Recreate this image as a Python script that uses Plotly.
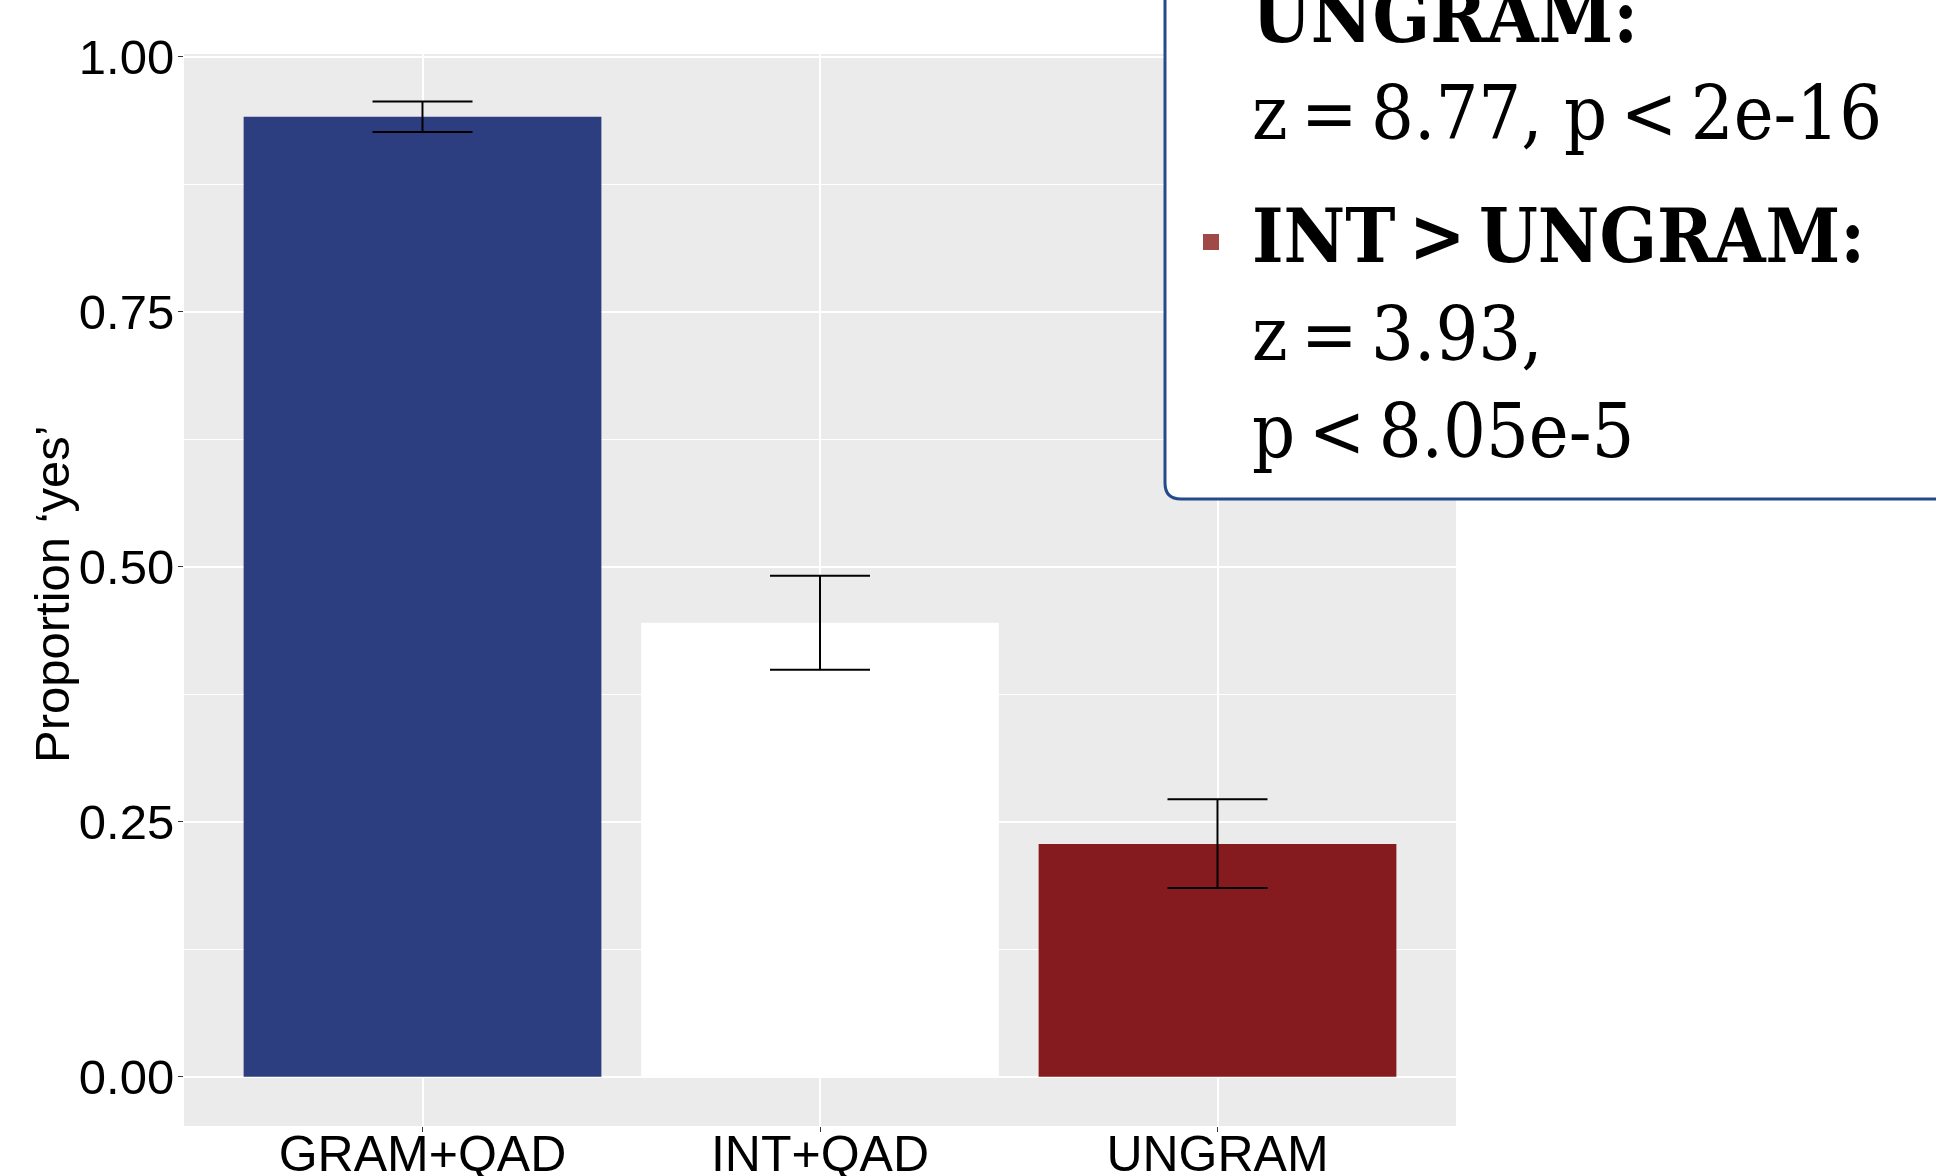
import plotly.graph_objects as go

categories = ["GRAM+QAD", "INT+QAD", "UNGRAM"]
proportions = [0.941, 0.445, 0.228]
err_upper = [0.956, 0.491, 0.272]
err_lower = [0.926, 0.399, 0.185]
bar_colors = ["#2C3E7F", "#FFFFFF", "#861B1F"]
y_ticks = [0.0, 0.25, 0.5, 0.75, 1.0]
y_ticklabels = ["0.00", "0.25", "0.50", "0.75", "1.00"]
TS = "\u2009"
box_lines = [
    ("<b>UNGRAM:</b>", 41),
    (f"z{TS}={TS}8.77, p{TS}<{TS}2e-16", 138),
    (f"<b>INT{TS}>{TS}UNGRAM:</b>", 261),
    (f"z{TS}={TS}3.93,", 359),
    (f"p{TS}<{TS}8.05e-5", 456),
]

W, H = 1936, 1176
L, R, T, B = 184, 1456, 54, 1126


def px(x):
    return (x - L) / (R - L)


def py(y):
    return (B - y) / (B - T)


fig = go.Figure()
fig.add_trace(go.Bar(
    x=categories, y=proportions,
    marker=dict(color=bar_colors, line=dict(width=0)),
    error_y=dict(type="data", symmetric=False,
                 array=[u - p for u, p in zip(err_upper, proportions)],
                 arrayminus=[p - l for l, p in zip(err_lower, proportions)],
                 color="black", thickness=2, width=50),
    showlegend=False,
))

fig.update_layout(
    width=W, height=H,
    margin=dict(l=L, r=W - R, t=T, b=H - B, autoexpand=False),
    paper_bgcolor="white", plot_bgcolor="#EBEBEB",
    bargap=0.1,
    font=dict(family="Liberation Sans, Arial, sans-serif", color="black"),
    xaxis=dict(range=[-0.6, 2.6], showgrid=True, gridcolor="white", gridwidth=2,
               ticks="outside", ticklen=5, tickcolor="#333333", tickwidth=1,
               ticklabelstandoff=-21,
               tickfont=dict(size=50, color="black"), zeroline=False, automargin=False),
    yaxis=dict(range=[-0.0483, 1.00245], tickvals=y_ticks, ticktext=y_ticklabels,
               showgrid=True, gridcolor="white", gridwidth=2,
               minor=dict(dtick=0.125, tick0=0.125, showgrid=True, gridcolor="white", gridwidth=1),
               ticks="outside", ticklen=5, tickcolor="#333333", tickwidth=1,
               ticklabelstandoff=-6,
               tickfont=dict(size=49, color="black"), zeroline=False, automargin=False),
)

fig.add_annotation(text="Proportion ‘yes’", textangle=-90, x=px(52), y=py(594),
                   xref="paper", yref="paper", xanchor="center", yanchor="middle", showarrow=False,
                   font=dict(size=49, color="black", family="Liberation Sans, Arial, sans-serif"))

# legend-like box
bx, bb, r = 1165, 499, 16
path = (f"M {px(bx)},{py(-60)} L {px(bx)},{py(bb - r)} "
        f"Q {px(bx)},{py(bb)} {px(bx + r)},{py(bb)} L {px(2000)},{py(bb)} "
        f"L {px(2000)},{py(-60)} Z")
fig.add_shape(type="path", path=path, xref="paper", yref="paper",
              fillcolor="white", line=dict(color="#234B8C", width=3), layer="above")

fs = 75
for txt, base in box_lines:
    fig.add_annotation(text=txt, x=px(1250), y=py(base - 0.28 * fs - 4), xref="paper", yref="paper",
                       xanchor="left", yanchor="middle", showarrow=False,
                       font=dict(size=fs, color="black",
                                 family="DejaVu Serif Condensed, DejaVu Serif, serif"))

fig.add_shape(type="rect", xref="paper", yref="paper",
              x0=px(1203), x1=px(1219), y0=py(250), y1=py(234),
              fillcolor="#A04A48", line=dict(width=0), layer="above")

fig.write_html("out.html", config={"displayModeBar": False},
               post_script="document.body.style.margin='0';document.body.style.overflow='hidden';")
